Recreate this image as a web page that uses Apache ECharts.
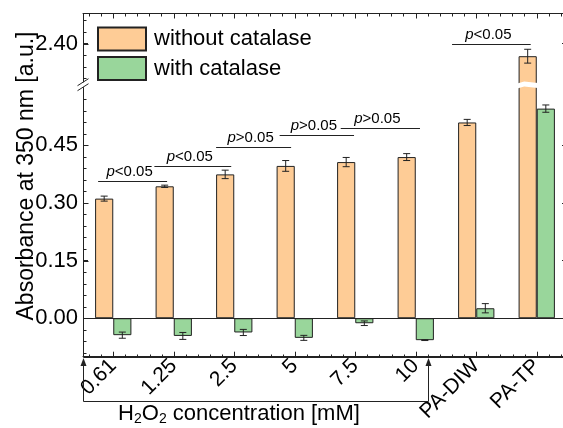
<!DOCTYPE html>
<html>
<head>
<meta charset="UTF-8">
<title>Absorbance at 350 nm</title>
<script src="https://cdn.jsdelivr.net/npm/echarts@6.0.0/dist/echarts.min.js"></script>
<style>
  html, body { margin: 0; padding: 0; background: #fff; }
  #chart { width: 563px; height: 428px; }
</style>
</head>
<body>
<div id="chart"></div>
<script>
const categories = ['0.61', '1.25', '2.5', '5', '7.5', '10', 'PA-DIW', 'PA-TP'];
const withoutCatalase = [0.311, 0.343, 0.374, 0.396, 0.406, 0.419, 0.509, 2.367];
const withoutCatalaseErr = [0.0065, 0.003, 0.011, 0.014, 0.012, 0.009, 0.008, 0.018];
const withCatalase = [-0.044, -0.046, -0.037, -0.051, -0.013, -0.057, 0.026, 0.545];
const withCatalaseErr = [0.008, 0.009, 0.008, 0.0065, 0.006, 0.001, 0.012, 0.0095];

const yTickValues = [0, 0.15, 0.30, 0.45, 2.40];

// significance brackets (x in category units from first category, y in data units)
const sigText = ['<0.05', '<0.05', '>0.05', '>0.05', '>0.05', '<0.05'];
const sigFrom = [-0.25, 0.68, 1.70, 2.75, 3.76, 5.60];
const sigTo = [0.89, 1.95, 2.94, 3.98, 5.07, 6.90];
const sigLevel = [0.358, 0.3955, 0.444, 0.4755, 0.4955, 2.40];

// bracket under the H2O2 group
const groupFrom = -0.5;
const groupTo = 5.2;

const FONT = 'Liberation Sans, Arial, sans-serif';
const ORANGE = '#FECC96';
const GREEN = '#99D69B';
const INK = '#222';

const GRID = { left: 83, top: 13.5, width: 484, height: 343.2 };
const Y_MIN = -0.1, Y_MAX = 2.478;

// minor ticks: every 0.03 between majors, every 0.2 category on x
const yMinor = [];
for (let k = -3; k <= 19; k++) if (k % 5 !== 0) yMinor.push(+(k * 0.03).toFixed(2));
for (let k = 77; k <= 82; k++) if (k !== 80) yMinor.push(+(k * 0.03).toFixed(2));
const xMinor = [];
for (let k = -2; k <= 37; k++) if (k % 5 !== 0) xMinor.push(+(k * 0.2).toFixed(1));

const yBreaks = [{ start: 0.60, end: 2.30, gap: '1.6%' }];

const chart = echarts.init(document.getElementById('chart'));

function errorBars(values, errs, shift) {
  return {
    type: 'custom',
    xAxisIndex: 0,
    yAxisIndex: 0,
    z: 5,
    silent: true,
    data: values.map((v, i) => [i, v, errs[i]]),
    renderItem: function (params, api) {
      const i = api.value(0), v = api.value(1), e = api.value(2);
      const band = api.size([1, 0])[0];
      const x = api.coord([i, v])[0] + shift * band;
      const yt = api.coord([i, v + e])[1];
      const yb = api.coord([i, v - e])[1];
      return {
        type: 'group',
        children: [
          { type: 'line', shape: { x1: x, y1: yt, x2: x, y2: yb }, style: { stroke: INK, lineWidth: 1 } },
          { type: 'line', shape: { x1: x - 3.5, y1: yt, x2: x + 3.5, y2: yt }, style: { stroke: INK, lineWidth: 1 } },
          { type: 'line', shape: { x1: x - 3.5, y1: yb, x2: x + 3.5, y2: yb }, style: { stroke: INK, lineWidth: 1 } }
        ]
      };
    }
  };
}

const lineOn = () => ({ show: true, onZero: false, lineStyle: { color: INK, width: 1 } });
const lineOff = () => ({ show: false, onZero: false });

const yBase = () => ({
  type: 'value',
  min: Y_MIN,
  max: Y_MAX,
  breaks: yBreaks,
  splitLine: { show: false },
  axisLine: lineOff(),
  axisLabel: { show: false },
  axisTick: { show: false },
  breakArea: { show: false }
});

chart.setOption({
  animation: false,
  grid: Object.assign({ outerBoundsMode: 'none' }, GRID),
  legend: {
    orient: 'vertical',
    left: 92,
    top: 21.5,
    itemWidth: 48,
    itemHeight: 23,
    itemGap: 4.5,
    icon: 'rect',
    textStyle: { fontSize: 22, fontFamily: FONT, color: '#000', padding: [0, 0, 0, 3] },
    data: ['without catalase', 'with catalase']
  },
  xAxis: [
    {
      type: 'category',
      data: categories,
      position: 'bottom',
      axisLine: lineOn(),
      axisTick: { show: true, inside: true, alignWithLabel: true, length: 5, lineStyle: { color: INK } },
      axisLabel: { rotate: 45, margin: 6, fontSize: 21, fontFamily: FONT, color: '#000', interval: 0 },
      splitLine: { show: false }
    },
    {
      type: 'category',
      data: categories,
      position: 'top',
      axisLine: lineOn(),
      axisTick: { show: true, inside: true, alignWithLabel: true, length: 5, lineStyle: { color: INK } },
      axisLabel: { show: false },
      splitLine: { show: false }
    },
    {
      type: 'value', min: -0.5, max: 7.5, position: 'top',
      axisLine: lineOff(), axisLabel: { show: false }, splitLine: { show: false },
      axisTick: { show: true, inside: true, length: 3, customValues: xMinor, lineStyle: { color: INK } }
    }
  ],
  yAxis: [
    Object.assign(yBase(), {
      position: 'left',
      axisLine: lineOn(),
      axisTick: { show: true, inside: true, length: 5, customValues: yTickValues, lineStyle: { color: INK } },
      axisLabel: {
        show: true, customValues: yTickValues, margin: 5,
        fontSize: 22, fontFamily: FONT, color: '#000',
        formatter: v => v.toFixed(2)
      },
      breakArea: {
        show: true,
        zigzagAmplitude: 1,
        expandOnClick: false,
        itemStyle: { color: '#fff', borderColor: '#fff', borderWidth: 0, opacity: 1 }
      }
    }),
    Object.assign(yBase(), {
      position: 'right',
      axisLine: lineOn(),
      axisTick: { show: true, inside: true, length: 5, customValues: yTickValues, lineStyle: { color: INK } }
    })
  ],
  series: [
    {
      name: 'without catalase',
      type: 'bar',
      xAxisIndex: 0,
      yAxisIndex: 0,
      barWidth: '30%',
      barGap: '0%',
      itemStyle: { color: ORANGE, borderColor: INK, borderWidth: 1 },
      data: withoutCatalase,
      markLine: {
        silent: true,
        symbol: 'none',
        label: { show: false },
        lineStyle: { color: INK, width: 1, type: 'solid' },
        data: [{ yAxis: 0 }]
      }
    },
    {
      name: 'with catalase',
      type: 'bar',
      xAxisIndex: 0,
      yAxisIndex: 0,
      barWidth: '30%',
      barGap: '0%',
      itemStyle: { color: GREEN, borderColor: INK, borderWidth: 1 },
      data: withCatalase
    },
    errorBars(withoutCatalase, withoutCatalaseErr, -0.15),
    errorBars(withCatalase, withCatalaseErr, 0.15)
  ]
});

// annotations placed through the axes
const px = f => {
  const p0 = chart.convertToPixel({ xAxisIndex: 0 }, categories[0]);
  const p1 = chart.convertToPixel({ xAxisIndex: 0 }, categories[1]);
  return p0 + f * (p1 - p0);
};
const py = v => chart.convertToPixel({ yAxisIndex: 0 }, v);
const crisp = v => Math.round(v) + 0.5;

const graphics = [];
const seg = (x1, y1, x2, y2) => ({
  type: 'line', silent: true, zlevel: 1, z: 10,
  shape: { x1: x1, y1: y1, x2: x2, y2: y2 },
  style: { stroke: INK, lineWidth: 1 }
});

// plot frame (left + bottom) with ticks, on its own layer, from the grid box
const fl = crisp(GRID.left), fb = crisp(GRID.top + GRID.height), ft = crisp(GRID.top);
const fr = GRID.left + GRID.width;
const yb = (py(0.60) + py(2.30)) / 2;
graphics.push(seg(fl, ft, fl, yb - 2.5));
graphics.push(seg(fl, yb + 2.5, fl, fb));
graphics.push(seg(fl, fb, fr, fb));
categories.forEach((c, i) => { const x = crisp(px(i)); graphics.push(seg(x, fb, x, fb - 5)); });
xMinor.forEach(f => { const x = crisp(px(f)); graphics.push(seg(x, fb, x, fb - 3)); });
yTickValues.forEach(v => { const y = crisp(py(v)); graphics.push(seg(fl, y, fl + 5, y)); });
yMinor.forEach(v => { const y = crisp(py(v)); graphics.push(seg(fl, y, fl + 3, y)); });

// axis break marks
graphics.push({ type: 'rect', silent: true, zlevel: 1, z: 5, shape: { x: 80, y: yb - 2.5, width: 6, height: 5 }, style: { fill: '#fff' } });
[-2.5, 2.5].forEach(d => graphics.push(seg(77.5, yb + d + 3.5, 88.5, yb + d - 3.5)));

sigText.forEach((t, i) => {
  const x1 = px(sigFrom[i]), x2 = px(sigTo[i]), y = crisp(py(sigLevel[i]));
  graphics.push(seg(x1, y, x2, y));
  graphics.push({
    type: 'text', silent: true, zlevel: 1, z: 10,
    x: (x1 + x2) / 2 - 3, y: y - 2,
    style: {
      text: '{i|p}' + t,
      fill: '#000',
      font: '15px ' + FONT,
      align: 'center',
      verticalAlign: 'bottom',
      rich: { i: { fontStyle: 'italic', fontSize: 15, fontFamily: FONT, fill: '#000' } }
    }
  });
});

// H2O2 group bracket with arrows
const gl = crisp(px(groupFrom)), gr = crisp(px(groupTo));
const yTop = 361, yLow = 401.5;
graphics.push({
  type: 'polyline', silent: true, zlevel: 1,
  shape: { points: [[gl, yTop], [gl, yLow], [gr, yLow], [gr, yTop]] },
  style: { stroke: INK, lineWidth: 1, fill: null }
});
[gl, gr].forEach(x => graphics.push({
  type: 'polygon', silent: true, zlevel: 1,
  shape: { points: [[x - 3, yTop + 5], [x, yTop - 3], [x + 3, yTop + 5]] },
  style: { fill: INK }
}));
graphics.push({
  type: 'text', silent: true,
  x: 239, y: 414,
  style: {
    text: 'H{s|2}O{s|2} concentration [mM]',
    fill: '#000',
    font: '22px ' + FONT,
    align: 'center',
    verticalAlign: 'middle',
    rich: { s: { fontSize: 14, fontFamily: FONT, fill: '#000', padding: [10, 0, 0, 0] } }
  }
});
graphics.push({
  type: 'text', silent: true,
  x: 27, y: 176, rotation: Math.PI / 2,
  style: {
    text: 'Absorbance at 350 nm [a.u.]',
    fill: '#000',
    font: '23px ' + FONT,
    align: 'center',
    verticalAlign: 'middle'
  }
});

chart.setOption({ graphic: graphics });
</script>
</body>
</html>
